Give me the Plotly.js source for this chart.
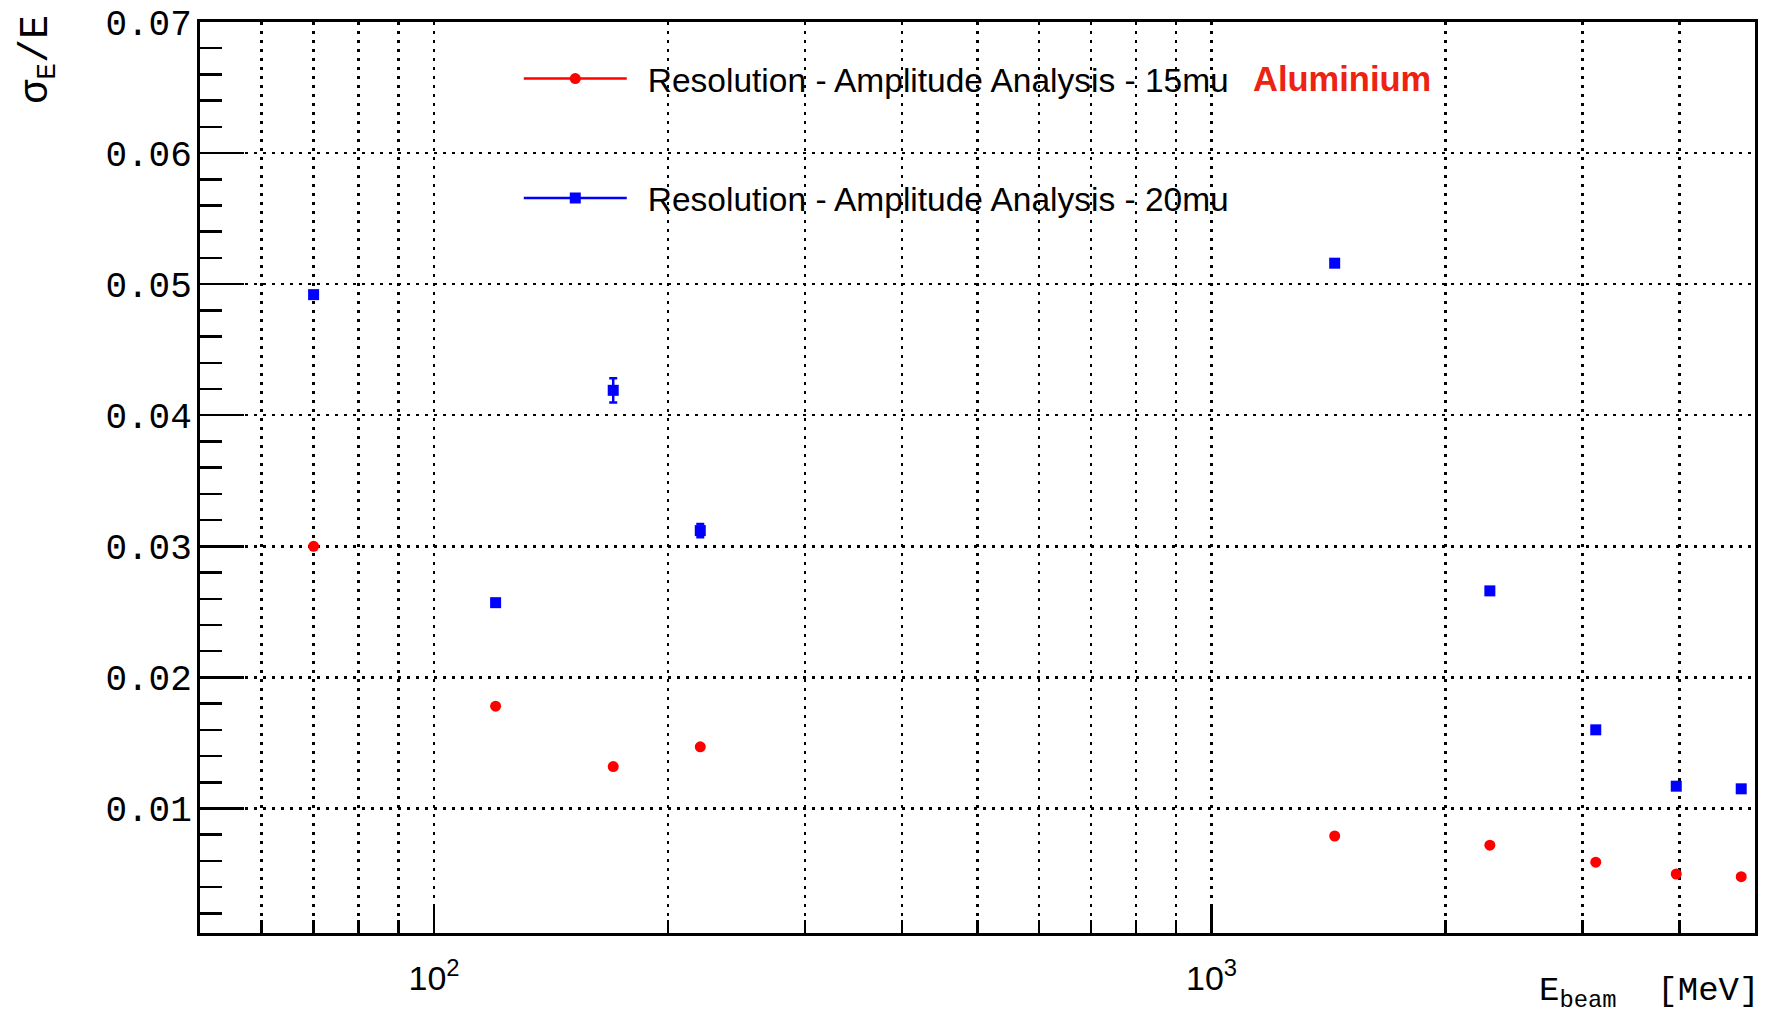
<!DOCTYPE html>
<html>
<head>
<meta charset="utf-8">
<script src="https://cdn.plot.ly/plotly-3.0.1.min.js"></script>
<style>html,body{margin:0;padding:0;background:#fff;}#chart{width:1790px;height:1017px;}</style>
</head>
<body>
<div id="chart"></div>
<script>
// ---- data ----
const energies = [70, 120, 170, 220, 1440, 2280, 3120, 3960, 4800];           // E_beam [MeV]
const res15mu  = [0.0300, 0.0178, 0.0132, 0.0147, 0.0079, 0.0072, 0.0059, 0.0050, 0.0048];
const res20mu  = [0.0492, 0.0257, 0.0419, 0.0312, 0.0516, 0.0266, 0.0160, 0.0117, 0.0115];
const err20mu  = [0, 0, 0.00093, 0.0005, 0, 0, 0, 0, 0];
const name15 = "Resolution - Amplitude Analysis - 15mu";
const name20 = "Resolution - Amplitude Analysis - 20mu";
const yTickVals = [0.01, 0.02, 0.03, 0.04, 0.05, 0.06, 0.07];
const yTickText = ["0.01", "0.02", "0.03", "0.04", "0.05", "0.06", "0.07"];
const xTickVals = [100, 1000];
const xTickText = ["10<sup>2</sup>", "10<sup>3</sup>"];
const xMinorVals = [60, 70, 80, 90, 200, 300, 400, 500, 600, 700, 800, 900, 2000, 3000, 4000];

// points separated by gaps so that no connecting line is drawn, while the legend keeps its line sample
function gapped(arr) { const out = []; arr.forEach((v, i) => { if (i) out.push(null); out.push(v); }); return out; }
const pad = "\u00a0\u2009";

const traces = [
  {
    x: gapped(energies), y: gapped(res15mu), name: pad + name15, legendgroup: "a",
    type: "scatter", mode: "lines+markers", connectgaps: false,
    line: {color: "#ff0000", width: 2.5},
    marker: {symbol: "circle", size: 11, color: "#ff0000"}
  },
  {
    x: gapped(energies), y: gapped(res20mu), name: pad + name20, legendgroup: "b",
    type: "scatter", mode: "lines+markers", connectgaps: false,
    line: {color: "#0000ff", width: 2.5},
    marker: {symbol: "square", size: 11, color: "#0000ff"},
    error_y: {type: "data", array: gapped(err20mu), visible: true, color: "#0000ff", thickness: 2.5, width: 4}
  }
];

const grid = {color: "#000000", width: 2.5, dash: "3px,6px"};

const layout = {
  width: 1790, height: 1017,
  margin: {l: 200, r: 35, t: 22, b: 84},
  paper_bgcolor: "#ffffff", plot_bgcolor: "#ffffff",
  showlegend: true,
  legend: {
    x: 0.205, y: 0.969, xanchor: "left", yanchor: "top",
    bgcolor: "rgba(0,0,0,0)", borderwidth: 0,
    font: {family: "Liberation Sans, Arial, sans-serif", size: 33.5, color: "#000"},
    itemwidth: 103, tracegroupgap: 73, traceorder: "grouped"
  },
  xaxis: {
    type: "log", range: [Math.log10(50), Math.log10(5000)],
    showline: true, linewidth: 3, linecolor: "#000", mirror: true,
    ticks: "inside", ticklen: 28, tickwidth: 2.5, tickcolor: "#000",
    tickmode: "array", tickvals: xTickVals, ticktext: xTickText,
    tickfont: {family: "Liberation Sans, Arial, sans-serif", size: 34, color: "#000"},
    ticklabelstandoff: 13,
    showgrid: true, gridcolor: grid.color, gridwidth: grid.width, griddash: grid.dash,
    zeroline: false,
    minor: {
      tickmode: "array", tickvals: xMinorVals, ticks: "inside", ticklen: 13, tickwidth: 2.5, tickcolor: "#000",
      showgrid: true, gridcolor: grid.color, gridwidth: grid.width, griddash: grid.dash
    }
  },
  yaxis: {
    range: [0.0005, 0.07],
    showline: true, linewidth: 3, linecolor: "#000", mirror: true,
    ticks: "inside", ticklen: 44, tickwidth: 2.5, tickcolor: "#000",
    tickmode: "array", tickvals: yTickVals, ticktext: yTickText,
    tickfont: {family: "Liberation Mono, Courier New, monospace", size: 36, color: "#000"},
    ticklabelstandoff: -2,
    showgrid: true, gridcolor: grid.color, gridwidth: grid.width, griddash: grid.dash,
    zeroline: false,
    minor: {dtick: 0.002, tick0: 0, ticks: "inside", ticklen: 22, tickwidth: 2.5, tickcolor: "#000", showgrid: false}
  },
  annotations: [
    {
      text: "σ<sub>E</sub>/E", textangle: -90, showarrow: false,
      xref: "paper", yref: "paper", x: -0.104, y: 1, xanchor: "center", yanchor: "top", yshift: 9,
      font: {family: "Liberation Mono, Courier New, monospace", size: 40, color: "#000"}
    },
    {
      text: "E<sub>beam</sub>\u00a0\u00a0[MeV]", showarrow: false,
      xref: "paper", yref: "paper", x: 1.004, y: -0.066, xanchor: "right", yanchor: "middle",
      font: {family: "Liberation Mono, Courier New, monospace", size: 34, color: "#000"}
    },
    {
      text: "<b>Aluminium</b>", showarrow: false,
      xref: "paper", yref: "paper", x: 0.676, y: 0.937, xanchor: "left", yanchor: "middle",
      font: {family: "Liberation Sans, Arial, sans-serif", size: 34.5, color: "#ee2211"}
    }
  ]
};

Plotly.newPlot("chart", traces, layout, {displayModeBar: false, staticPlot: true});
</script>
</body>
</html>
